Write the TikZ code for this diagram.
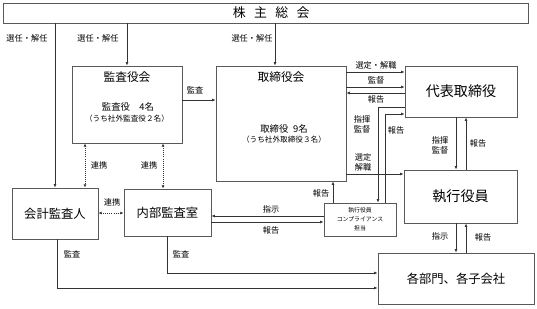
\documentclass[tikz,border=0pt]{standalone}
\usepackage{fontspec}
\setmainfont{Noto Sans CJK JP}
\usetikzlibrary{arrows.meta,calc,positioning}

\tikzset{
  box/.style={draw=black!65, line width=0.8pt, fill=white, inner sep=0pt, align=center},
  title/.style={inner sep=0pt, font=\fontsize{10}{11}\selectfont},
  body/.style={inner sep=0pt, font=\fontsize{8}{9}\selectfont},
  note/.style={inner sep=0pt, font=\fontsize{6.5}{7}\selectfont},
  lbl/.style={inner sep=0pt, align=center, font=\fontsize{7}{8.4}\selectfont},
  arr/.style={draw=black!80, line width=0.75pt, -{Latex[length=3pt,width=2.6pt]}},
  link/.style={draw=black!80, line width=0.75pt, densely dotted,
    {Latex[length=2.6pt,width=2.4pt]}-{Latex[length=2.6pt,width=2.4pt]}},
}

\begin{document}
\begin{tikzpicture}[x=0.03cm, y=-0.03cm]
\useasboundingbox (0,0) rectangle (537,308);

% boxes
\node[box, minimum width=15.75cm, minimum height=0.6cm, font=\fontsize{11}{12}\selectfont] (gm) at (265.5,13) {\hspace{0.9em}株\hspace{0.65em}主\hspace{0.65em}総\hspace{0.65em}会};
\node[box, minimum width=3.3cm, minimum height=2.31cm] (kansa) at (127,104.5) {};
\node[title] (kansa-t) at (127,77) {監査役会};
\node[body] (kansa-b) at (128,107) {監査役\quad 4名};
\node[note] (kansa-n) at (127,119) {（うち社外監査役２名）};
\node[box, minimum width=3.9cm, minimum height=3.45cm] (tori) at (281,123.5) {};
\node[title] (tori-t) at (281,77) {取締役会};
\node[body] (tori-b) at (284,129) {取締役\enspace 9名};
\node[note] (tori-n) at (284,140) {（うち社外取締役３名）};
\node[box, minimum width=3.36cm, minimum height=1.53cm, font=\fontsize{12}{13}\selectfont] (dai) at (461,91.5) {代表取締役};
\node[box, minimum width=3.39cm, minimum height=1.59cm, font=\fontsize{12}{13}\selectfont] (shik) at (460.5,196.5) {執行役員};
\node[box, minimum width=2.16cm, minimum height=0.99cm, font=\fontsize{5}{7.6}\selectfont] (comp) at (360,219.5) {執行役員\\コンプライアンス\\担当};
\node[box, minimum width=2.61cm, minimum height=1.41cm, font=\fontsize{10.5}{11}\selectfont] (naibu) at (167.5,212.5) {内部監査室};
\node[box, minimum width=2.58cm, minimum height=1.53cm, font=\fontsize{10.5}{11}\selectfont] (kaikei) at (55,213.5) {会計監査人};
\node[box, minimum width=4.68cm, minimum height=1.53cm, font=\fontsize{10.5}{11}\selectfont] (kaku) at (456,278.5) {各部門、各子会社};

% shareholders
\draw[arr] (gm.south -| kaikei.north) -- (kaikei.north);
\draw[arr] (gm.south -| kansa.north) -- (kansa.north);
\draw[arr] ($(gm.south -| tori.north)+(-6,0)$) -- ($(tori.north)+(-6,0)$);
\node[lbl] (l-sen1) at (27,38) {選任・解任};
\node[lbl] (l-sen2) at (98,38) {選任・解任};
\node[lbl] (l-sen3) at (252,38) {選任・解任};

% board
\draw[arr] (kansa.east |- 0,100) -- (tori.west |- 0,100);
\node[lbl] (l-kansa) at (195,90) {監査};
\draw[arr] (tori.east |- 0,72) -- (dai.west |- 0,72);
\draw[arr] (tori.east |- 0,87) -- (dai.west |- 0,87);
\draw[arr] (dai.west |- 0,93) -- (tori.east |- 0,93);
\node[lbl] (l-sentei) at (376,65) {選定・解職};
\node[lbl] (l-kantoku) at (376,80) {監督};
\node[lbl] (l-hokoku1) at (376,99) {報告};
\draw[arr] (dai.west |- 0,107) -| (comp.north -| 378,0);
\draw[arr] (comp.north -| 385,0) |- (dai.west |- 0,114);
\node[lbl] (l-shiki1) at (362,124) {指揮\\監督};
\node[lbl] (l-hokoku2) at (396,130) {報告};
\draw[arr] (tori.east |- 0,174) -- (shik.west |- 0,174);
\node[lbl] (l-sentei2) at (363,162) {選定\\解職};

% execution
\draw[arr] (dai.south -| 456,0) -- (shik.north -| 456,0);
\draw[arr] (shik.north -| 466,0) -- (dai.south -| 466,0);
\node[lbl] (l-shiki2) at (440,145) {指揮\\監督};
\node[lbl] (l-hokoku3) at (478,143) {報告};
\draw[arr] (shik.south -| 456,0) -- (kaku.north -| 456,0);
\draw[arr] (kaku.north -| 466,0) -- (shik.south -| 466,0);
\node[lbl] (l-shiji1) at (440,236) {指示};
\node[lbl] (l-hokoku4) at (483,237) {報告};

% compliance
\draw[arr] (comp.north -| 333,0) -- (tori.south -| 333,0);
\node[lbl] (l-hokoku5) at (321,193) {報告};
\draw[arr] (comp.west |- 0,216) -- (naibu.east |- 0,216);
\draw[arr] (naibu.east |- 0,222) -- (comp.west |- 0,222);
\node[lbl] (l-shiji2) at (271,209) {指示};
\node[lbl] (l-hokoku6) at (271,230) {報告};

% audit cooperation
\draw[link] (kaikei.east |- 0,213) -- (naibu.west |- 0,213);
\draw[link] (kansa.south -| 85,0) -- (kaikei.north -| 85,0);
\draw[link] (kansa.south -| 163,0) -- (naibu.north -| 163,0);
\node[lbl] (l-renkei1) at (112,202) {連携};
\node[lbl] (l-renkei2) at (99,165) {連携};
\node[lbl] (l-renkei3) at (149,165) {連携};

% audits
\draw[arr] (kaikei.south -| 57,0) |- (kaku.west |- 0,288);
\draw[arr] (naibu.south) |- (kaku.west |- 0,273);
\node[lbl] (l-kansa2) at (72,254) {監査};
\node[lbl] (l-kansa3) at (181,254) {監査};
\end{tikzpicture}
\end{document}
